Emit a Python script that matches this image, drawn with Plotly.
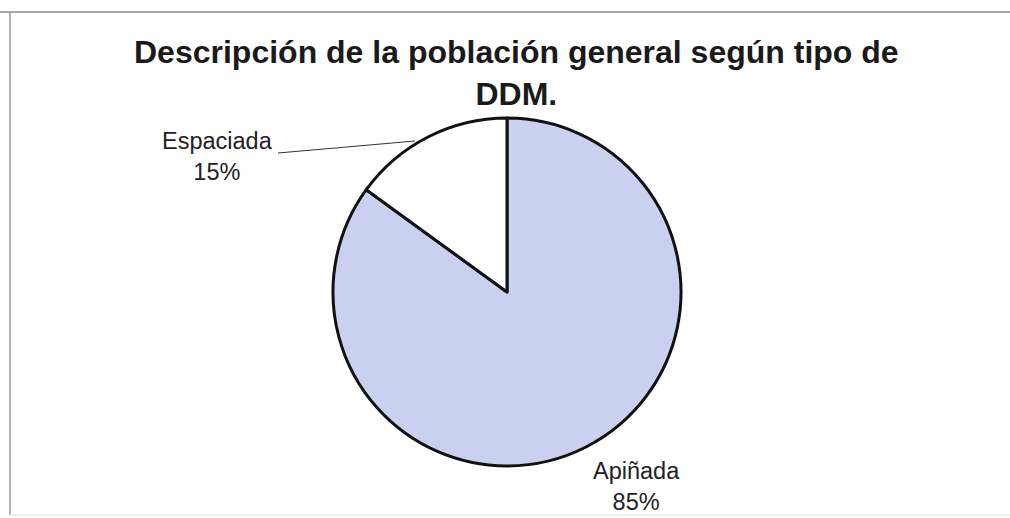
import plotly.graph_objects as go

# Distribution of DDM type in the general population
categorias = ["Apiñada", "Espaciada"]
valores = [85, 15]
colores = ["#cad1f0", "#ffffff"]

titulo = "Descripción de la población general según tipo de<br>DDM."

W, H = 1010, 518
cx, cy, r = 507, 292, 174  # pie centre and radius in pixels

total = sum(valores)
pct = {c: round(v / total * 100) for c, v in zip(categorias, valores)}

fig = go.Figure(
    go.Pie(
        labels=categorias,
        values=valores,
        sort=False,
        direction="clockwise",
        rotation=0,
        marker=dict(colors=colores, line=dict(color="#111111", width=3)),
        textinfo="none",
        hoverinfo="label+percent",
        showlegend=False,
        domain=dict(
            x=[(cx - r) / W, (cx + r) / W],
            y=[(H - cy - r) / H, (H - cy + r) / H],
        ),
    )
)

fuente = "Liberation Sans, Arial, sans-serif"

# Chart title
fig.add_annotation(
    text="<b>" + titulo.replace("<br>", "</b><br><b>") + "</b>",
    x=516 / W, y=1 - 73 / H, xref="paper", yref="paper",
    xanchor="center", yanchor="middle", showarrow=False,
    font=dict(family=fuente, size=32, color="#1a1a1a"),
)

# Slice labels
fig.add_annotation(
    text=f"Espaciada<br>{pct['Espaciada']}%",
    x=217 / W, y=1 - 156 / H, xref="paper", yref="paper",
    xanchor="center", yanchor="middle", showarrow=False,
    font=dict(family=fuente, size=23.5, color="#222222"),
)
fig.add_annotation(
    text=f"Apiñada<br>{pct['Apiñada']}%",
    x=636 / W, y=1 - 486 / H, xref="paper", yref="paper",
    xanchor="center", yanchor="middle", showarrow=False,
    font=dict(family=fuente, size=23.5, color="#222222"),
)

shapes = [
    # leader line for the small slice
    dict(type="line", xref="paper", yref="paper",
         x0=278 / W, y0=1 - 153 / H, x1=415 / W, y1=1 - 141 / H,
         line=dict(color="#333333", width=1)),
    # outer frame
    dict(type="line", xref="paper", yref="paper",
         x0=0, y0=1 - 12 / H, x1=1, y1=1 - 12 / H,
         line=dict(color="#8a8a8a", width=1.5)),
    dict(type="line", xref="paper", yref="paper",
         x0=10 / W, y0=1 - 12 / H, x1=10 / W, y1=1 - 515 / H,
         line=dict(color="#9a9a9a", width=1.5)),
    dict(type="line", xref="paper", yref="paper",
         x0=10 / W, y0=1 - 515 / H, x1=1, y1=1 - 515 / H,
         line=dict(color="#dddddd", width=1)),
]

fig.update_layout(
    width=W, height=H,
    margin=dict(l=0, r=0, t=0, b=0),
    paper_bgcolor="white",
    plot_bgcolor="white",
    shapes=shapes,
)

fig.write_html("out.html")
